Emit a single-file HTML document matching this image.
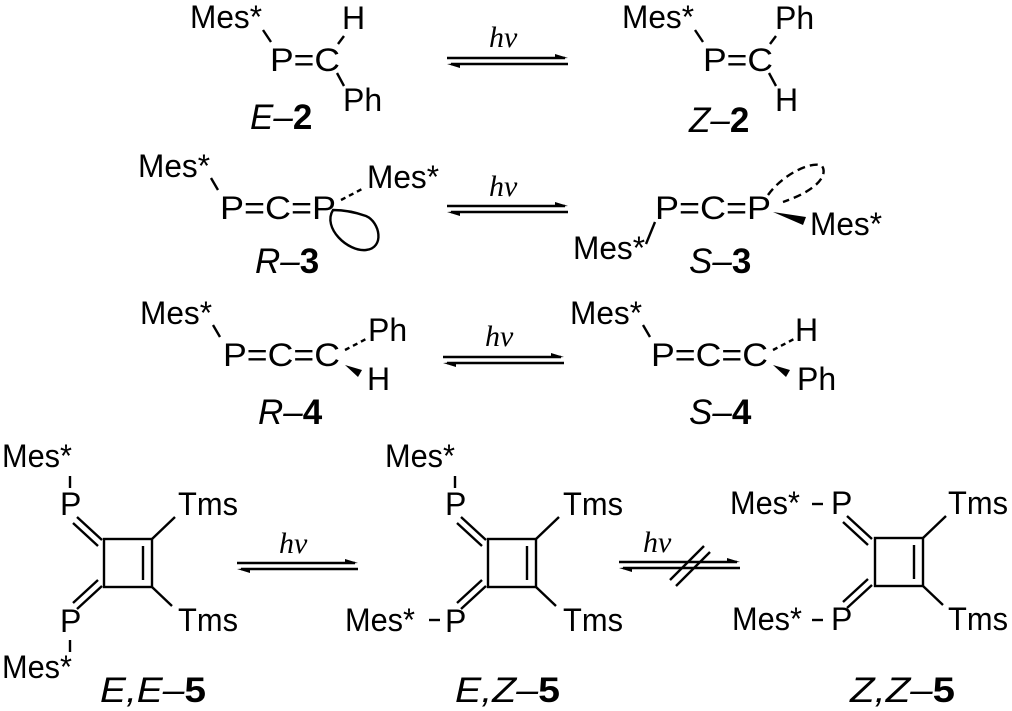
<!DOCTYPE html>
<html><head><meta charset="utf-8"><style>
html,body{margin:0;padding:0;background:#fff;width:1012px;height:711px;overflow:hidden}
svg{display:block}
text{font-family:"Liberation Sans",sans-serif;font-size:32px;fill:#000}
.lb{font-size:35px;font-style:italic}
.b{font-weight:bold;font-style:normal}
.hv{font-family:"Liberation Serif",serif;font-style:italic;font-size:30px}
</style></head><body>
<svg width="1012" height="711" viewBox="0 0 1012 711" xmlns="http://www.w3.org/2000/svg">
<g stroke="#000" stroke-width="2.4" fill="none">
<!-- E-2 -->
<line x1="263" y1="30" x2="271" y2="42"/><line x1="344" y1="36" x2="338" y2="44"/><line x1="337" y1="73" x2="344" y2="86"/>
<!-- Z-2 -->
<line x1="695" y1="30" x2="703" y2="42"/><line x1="776" y1="36" x2="770" y2="44"/><line x1="769" y1="73" x2="776" y2="86"/>
<!-- R-3 -->
<line x1="211" y1="178" x2="218" y2="190"/>
<line x1="341" y1="200" x2="362" y2="189" stroke-dasharray="5,4"/>
<path d="M333 210 C322 228 348 252 366 250 C385 248 380 222 366 216 C352 211 340 210 333 210 Z"/>
<!-- S-3 -->
<line x1="655" y1="222" x2="646" y2="244"/>
<path d="M768 195 C782 175 812 160 822 166 C828 175 818 190 783 202" stroke-dasharray="8,5"/>
<!-- R-4 -->
<line x1="213" y1="325" x2="220" y2="337"/>
<line x1="345" y1="350" x2="366" y2="339" stroke-dasharray="5,4"/>
<!-- S-4 -->
<line x1="643" y1="325" x2="650" y2="337"/>
<line x1="773" y1="350" x2="794" y2="339" stroke-dasharray="5,4"/>
<!-- arrows -->
<g>
<line x1="447" y1="58" x2="565" y2="58"/><line x1="451" y1="64" x2="568" y2="64"/>
<line x1="447" y1="206" x2="565" y2="206"/><line x1="451" y1="212" x2="568" y2="212"/>
<line x1="443" y1="357" x2="561" y2="357"/><line x1="447" y1="363" x2="564" y2="363"/>
<line x1="237" y1="563" x2="355" y2="563"/><line x1="241" y1="569" x2="358" y2="569"/>
<line x1="619" y1="562" x2="737" y2="562"/><line x1="623" y1="568" x2="740" y2="568"/>
<line x1="670" y1="580" x2="704" y2="546"/><line x1="676" y1="586" x2="710" y2="552"/>
</g>
<!-- E,E-5 -->
<rect x="104" y="539" width="48" height="48"/>
<line x1="143" y1="546" x2="143" y2="580"/>
<line x1="70" y1="476" x2="70" y2="488"/><line x1="70" y1="640" x2="70" y2="652"/>
<line x1="77" y1="517" x2="102" y2="540"/><line x1="73" y1="523" x2="98" y2="546"/>
<line x1="77" y1="609" x2="102" y2="586"/><line x1="73" y1="603" x2="98" y2="580"/>
<line x1="152" y1="539" x2="175" y2="517"/><line x1="152" y1="587" x2="172" y2="606"/>
<!-- E,Z-5 -->
<rect x="488" y="539" width="48" height="48"/>
<line x1="527" y1="546" x2="527" y2="580"/>
<line x1="455" y1="476" x2="455" y2="488"/>
<line x1="461" y1="517" x2="486" y2="540"/><line x1="457" y1="523" x2="482" y2="546"/>
<line x1="461" y1="609" x2="486" y2="586"/><line x1="457" y1="603" x2="482" y2="580"/>
<line x1="536" y1="539" x2="559" y2="517"/><line x1="536" y1="587" x2="556" y2="606"/>
<line x1="429" y1="620" x2="440" y2="620"/>
<!-- Z,Z-5 -->
<rect x="875" y="538" width="48" height="48"/>
<line x1="914" y1="545" x2="914" y2="579"/>
<line x1="847" y1="516" x2="872" y2="539"/><line x1="843" y1="522" x2="868" y2="545"/>
<line x1="847" y1="608" x2="872" y2="585"/><line x1="843" y1="602" x2="868" y2="579"/>
<line x1="923" y1="538" x2="946" y2="516"/><line x1="923" y1="586" x2="943" y2="605"/>
<line x1="812" y1="504" x2="823" y2="504"/><line x1="812" y1="620" x2="823" y2="620"/>
</g>
<g fill="#000">
<polygon points="555,54 568,58 555,59"/><polygon points="460,63 447,64 460,68"/>
<polygon points="555,202 568,206 555,207"/><polygon points="460,211 447,212 460,216"/>
<polygon points="551,353 564,357 551,358"/><polygon points="456,362 443,363 456,367"/>
<polygon points="345,559 358,563 345,564"/><polygon points="250,568 237,569 250,573"/>
<polygon points="727,558 740,562 727,563"/><polygon points="632,567 619,568 632,572"/>
<polygon points="773,212 806,217 803,225"/>
<polygon points="345,365 362,370 358,377"/>
<polygon points="773,365 790,370 786,377"/>
</g>
<!-- texts -->
<text x="190" y="28" textLength="72" lengthAdjust="spacingAndGlyphs">Mes*</text><text x="270" y="71" textLength="70" lengthAdjust="spacingAndGlyphs">P=C</text><text x="342" y="29">H</text><text x="343" y="111">Ph</text>
<text x="250" y="129" class="lb">E–<tspan class="b">2</tspan></text>
<text class="hv" x="489" y="47">hν</text>
<text x="622" y="28" textLength="72" lengthAdjust="spacingAndGlyphs">Mes*</text><text x="703" y="71" textLength="70" lengthAdjust="spacingAndGlyphs">P=C</text><text x="775" y="29">Ph</text><text x="775" y="111">H</text>
<text x="689" y="132" class="lb">Z–<tspan class="b">2</tspan></text>
<text x="138" y="177" textLength="72" lengthAdjust="spacingAndGlyphs">Mes*</text><text x="220" y="219" textLength="116" lengthAdjust="spacingAndGlyphs">P=C=P</text><text x="367" y="188" textLength="72" lengthAdjust="spacingAndGlyphs">Mes*</text>
<text x="255" y="273" class="lb">R–<tspan class="b">3</tspan></text>
<text class="hv" x="489" y="196">hν</text>
<text x="655" y="219" textLength="116" lengthAdjust="spacingAndGlyphs">P=C=P</text><text x="573" y="259" textLength="72" lengthAdjust="spacingAndGlyphs">Mes*</text><text x="810" y="235" textLength="72" lengthAdjust="spacingAndGlyphs">Mes*</text>
<text x="689" y="273" class="lb">S–<tspan class="b">3</tspan></text>
<text x="140" y="324" textLength="72" lengthAdjust="spacingAndGlyphs">Mes*</text><text x="223" y="366" textLength="117" lengthAdjust="spacingAndGlyphs">P=C=C</text><text x="368" y="341">Ph</text><text x="367" y="390">H</text>
<text x="258" y="424" class="lb">R–<tspan class="b">4</tspan></text>
<text class="hv" x="485" y="346">hν</text>
<text x="570" y="324" textLength="72" lengthAdjust="spacingAndGlyphs">Mes*</text><text x="651" y="366" textLength="117" lengthAdjust="spacingAndGlyphs">P=C=C</text><text x="795" y="341">H</text><text x="797" y="390">Ph</text>
<text x="689" y="424" class="lb">S–<tspan class="b">4</tspan></text>
<text x="2" y="467" textLength="70" lengthAdjust="spacingAndGlyphs">Mes*</text><text x="60" y="515">P</text><text x="60" y="632">P</text><text x="2" y="678" textLength="70" lengthAdjust="spacingAndGlyphs">Mes*</text>
<text x="178" y="515" textLength="60" lengthAdjust="spacingAndGlyphs">Tms</text><text x="178" y="631" textLength="60" lengthAdjust="spacingAndGlyphs">Tms</text>
<text x="100" y="702" class="lb" textLength="106" lengthAdjust="spacingAndGlyphs">E,E–<tspan class="b">5</tspan></text>
<text class="hv" x="279" y="553">hν</text>
<text x="385" y="467" textLength="70" lengthAdjust="spacingAndGlyphs">Mes*</text><text x="445" y="515">P</text><text x="345" y="631" textLength="70" lengthAdjust="spacingAndGlyphs">Mes*</text><text x="445" y="632">P</text>
<text x="563" y="515" textLength="60" lengthAdjust="spacingAndGlyphs">Tms</text><text x="563" y="631" textLength="60" lengthAdjust="spacingAndGlyphs">Tms</text>
<text x="455" y="702" class="lb" textLength="105" lengthAdjust="spacingAndGlyphs">E,Z–<tspan class="b">5</tspan></text>
<text class="hv" x="643" y="552">hν</text>
<text x="730" y="514" textLength="70" lengthAdjust="spacingAndGlyphs">Mes*</text><text x="831" y="514">P</text><text x="732" y="630" textLength="70" lengthAdjust="spacingAndGlyphs">Mes*</text><text x="831" y="630">P</text>
<text x="948" y="514" textLength="60" lengthAdjust="spacingAndGlyphs">Tms</text><text x="948" y="630" textLength="60" lengthAdjust="spacingAndGlyphs">Tms</text>
<text x="850" y="702" class="lb" textLength="105" lengthAdjust="spacingAndGlyphs">Z,Z–<tspan class="b">5</tspan></text>
</svg>
</body></html>
